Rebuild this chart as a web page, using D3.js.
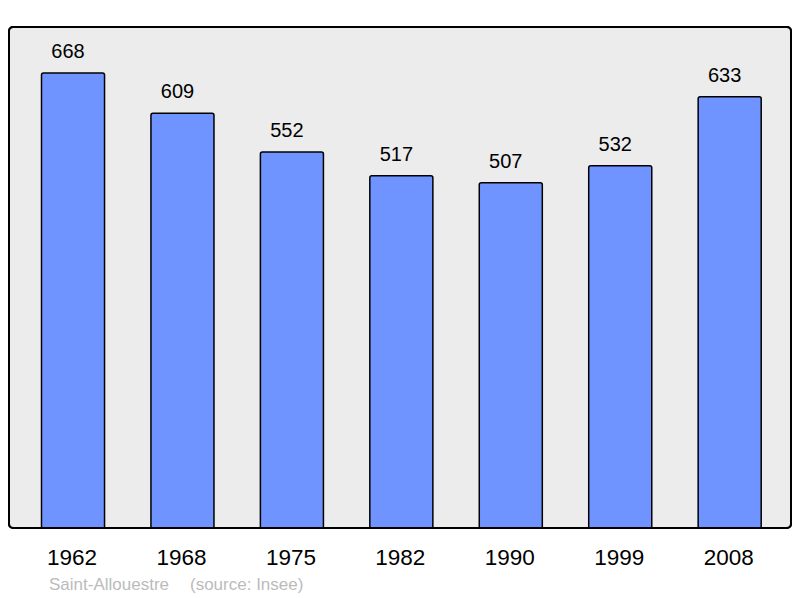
<!DOCTYPE html>
<html><head><meta charset="utf-8">
<script src="https://cdn.jsdelivr.net/npm/d3@7"></script>
<style>body{margin:0;background:#fff}svg{display:block}text{font-family:"Liberation Sans",Arial,sans-serif}</style>
</head><body>
<svg id="c" width="800" height="598"></svg>
<script>
const years = ["1962","1968","1975","1982","1990","1999","2008"];
const population = [668,609,552,517,507,532,633];
const commune = "Saint-Allouestre";
const source = "(source: Insee)";

const svg = d3.select("#c");
const panel = {x:9, y:27, w:782, h:501};
const x = d3.scaleBand().domain(years).range([18.3, 784.4]).paddingInner(0.424).paddingOuter(0.212);
const y = d3.scaleLinear().domain([0, 668]).range([528, 73]);

svg.append("rect").attr("x",panel.x).attr("y",panel.y).attr("width",panel.w).attr("height",panel.h)
  .attr("rx",4).attr("fill","#ececec").attr("stroke","#000").attr("stroke-width",2);

const data = years.map((d,i)=>({year:d, v:population[i]}));
svg.selectAll("rect.bar").data(data).join("rect").attr("class","bar")
  .attr("x",d=>x(d.year)).attr("y",d=>y(d.v)).attr("width",x.bandwidth())
  .attr("height",d=>y(0)-y(d.v)+3).attr("rx",2)
  .attr("fill","#7094ff").attr("stroke","#000").attr("stroke-width",1.5);

svg.append("rect").attr("x",0).attr("y",529).attr("width",800).attr("height",10).attr("fill","#fff");
svg.append("rect").attr("x",panel.x).attr("y",panel.y).attr("width",panel.w).attr("height",panel.h)
  .attr("rx",4).attr("fill","none").attr("stroke","#000").attr("stroke-width",2);

svg.selectAll("text.val").data(data).join("text").attr("class","val")
  .attr("x",d=>x(d.year)+x.bandwidth()/2-5).attr("y",d=>y(d.v)-15)
  .attr("text-anchor","middle").attr("font-size",20).attr("fill","#000").text(d=>d.v);

svg.selectAll("text.yr").data(years).join("text").attr("class","yr")
  .attr("x",d=>x(d)+x.bandwidth()/2-1).attr("y",565)
  .attr("text-anchor","middle").attr("font-size",22.5).attr("fill","#000").text(d=>d);

svg.append("text").attr("x",49).attr("y",590).attr("font-size",17).attr("fill","#bbb").text(commune);
svg.append("text").attr("x",190).attr("y",590).attr("font-size",17).attr("fill","#bbb").text(source);
</script>
</body></html>
